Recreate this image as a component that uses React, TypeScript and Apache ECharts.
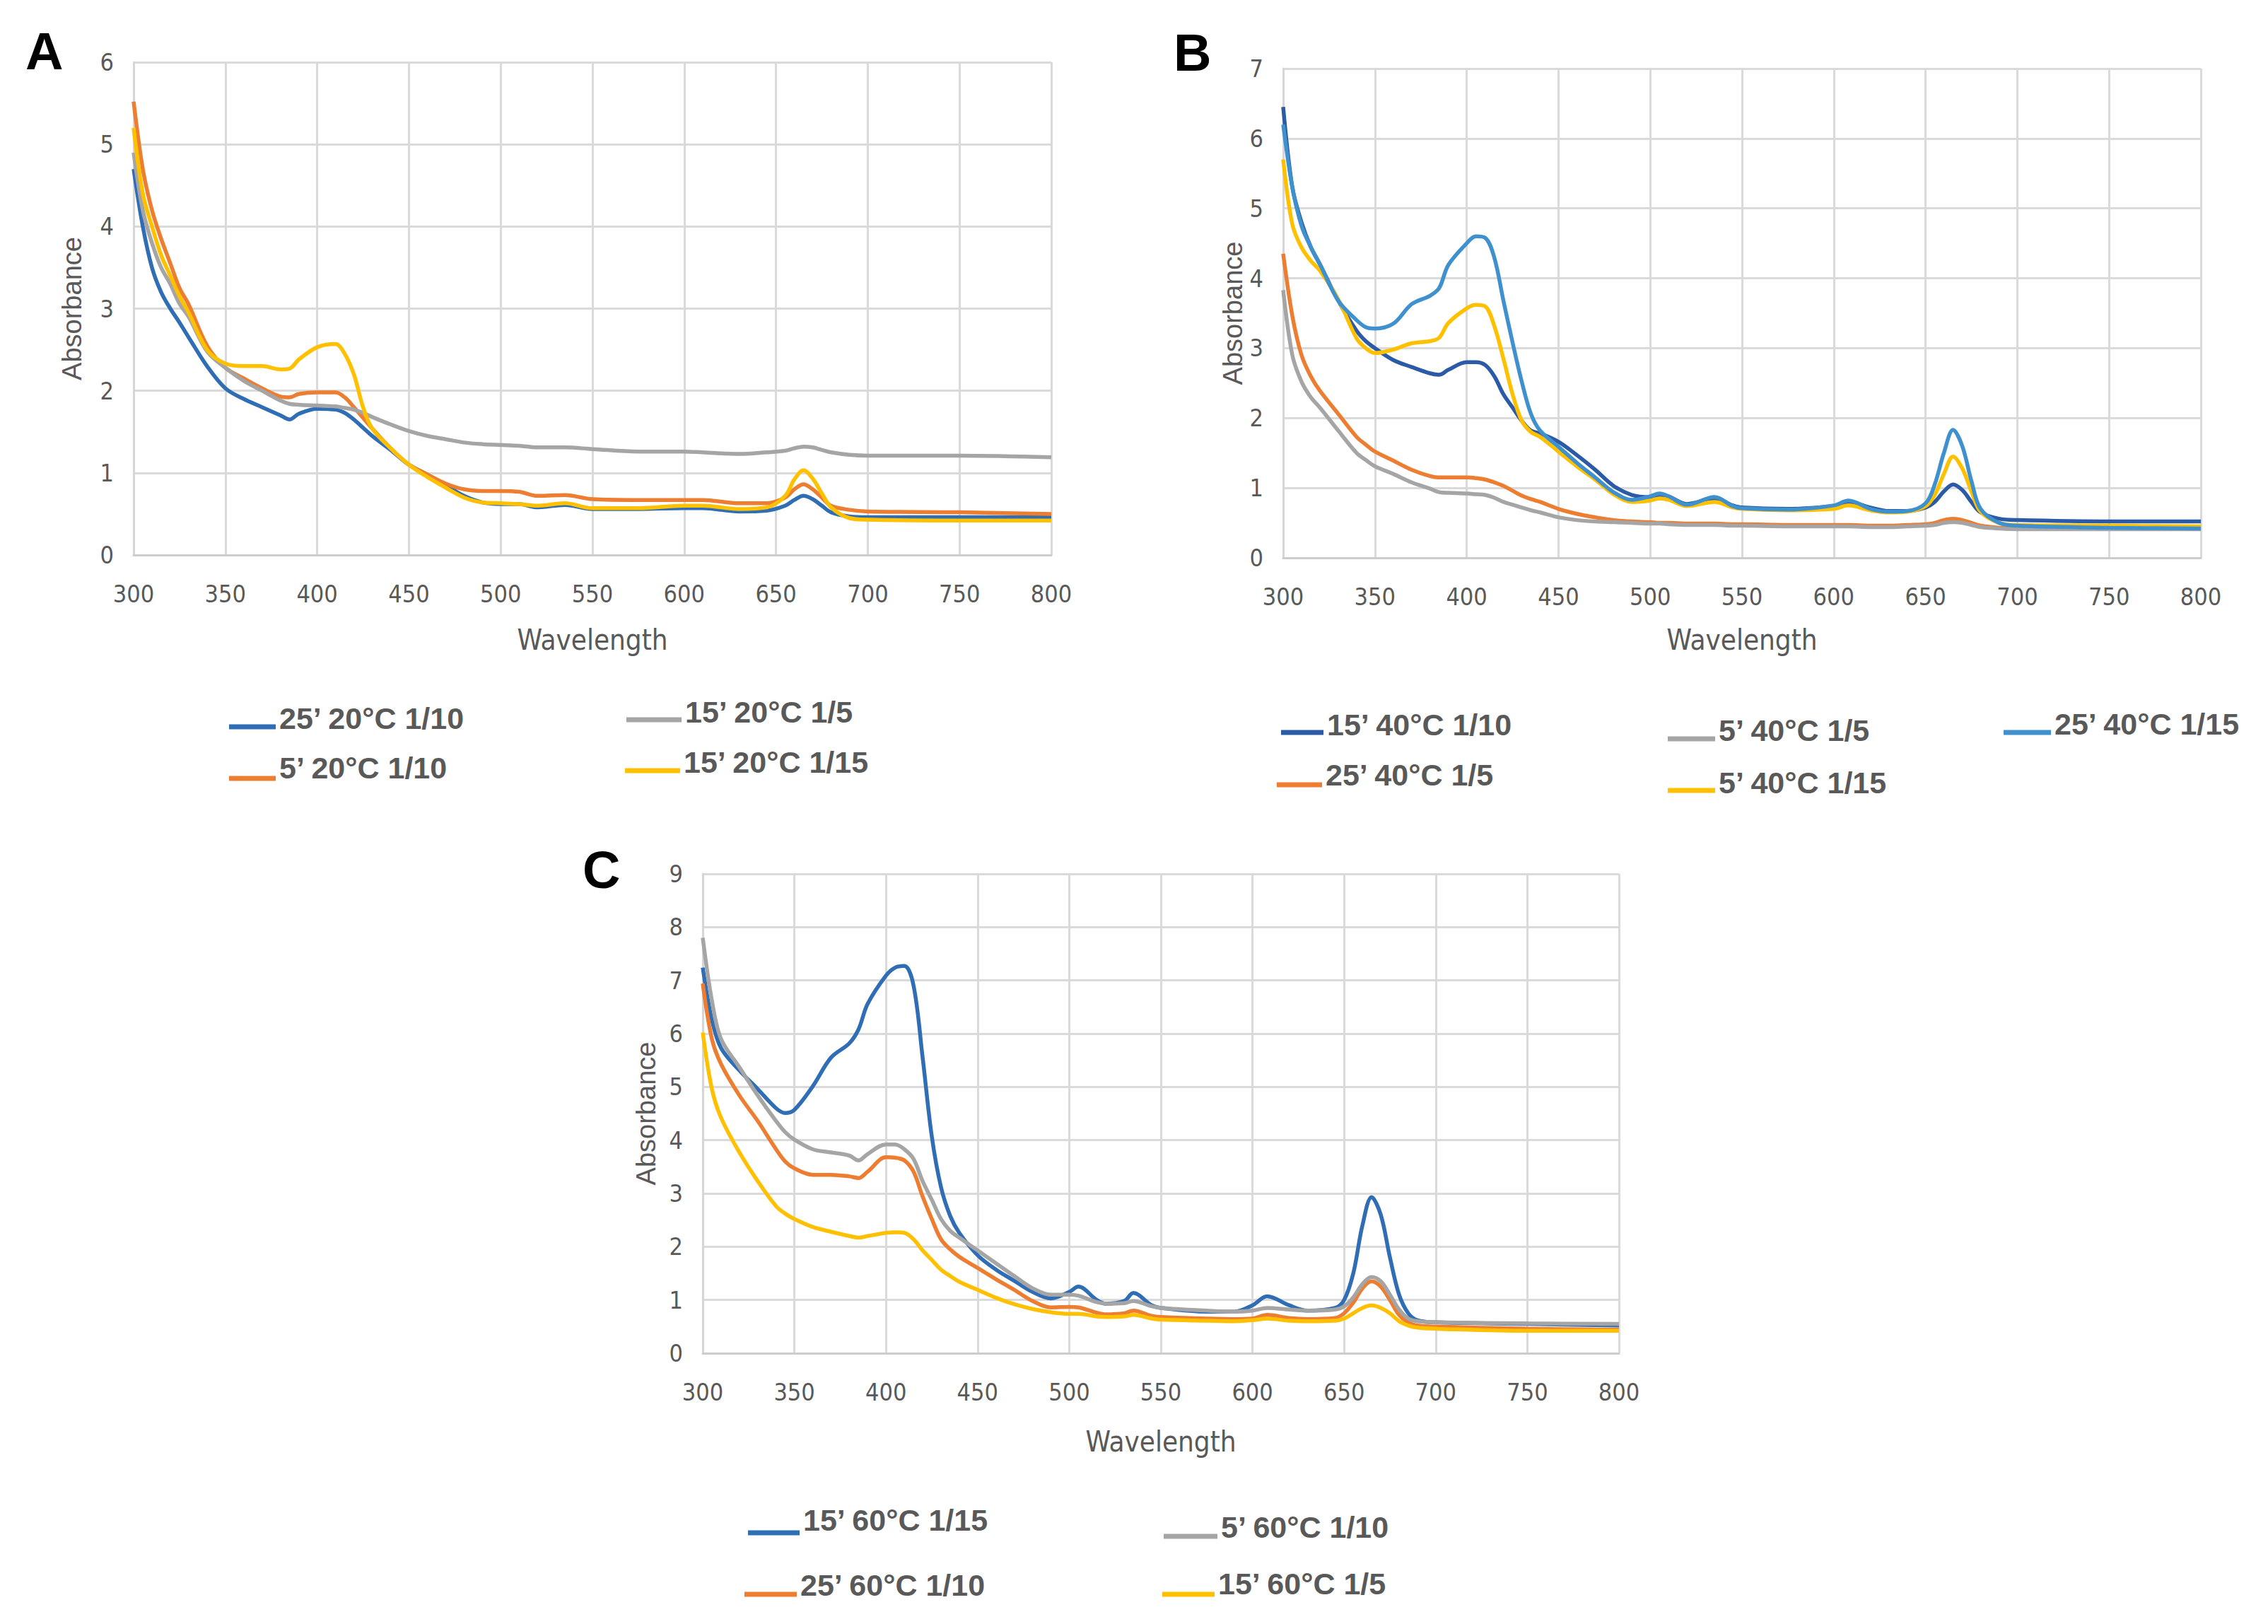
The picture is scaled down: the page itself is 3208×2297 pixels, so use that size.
import React, { useEffect, useRef } from "react";
import * as echarts from "echarts";

// ---------- Panel A ----------
const WL_A = [300,305,310,315,320,325,330,340,350,360,370,380,385,390,400,410,415,420,425,430,440,450,460,470,480,490,500,510,520,535,550,575,600,610,630,645,655,660,665,670,675,680,690,700,750,800];
const A_25_20_10 = [4.7,4.0,3.5,3.2,3.0,2.83,2.65,2.3,2.03,1.9,1.8,1.7,1.65,1.72,1.78,1.77,1.73,1.65,1.55,1.45,1.28,1.1,0.98,0.85,0.72,0.64,0.62,0.62,0.58,0.61,0.56,0.56,0.57,0.57,0.53,0.54,0.6,0.67,0.72,0.68,0.6,0.52,0.47,0.46,0.46,0.46];
const A_5_20_10 = [5.52,4.7,4.2,3.85,3.55,3.25,3.05,2.55,2.28,2.15,2.03,1.93,1.92,1.96,1.98,1.98,1.92,1.8,1.67,1.54,1.3,1.1,0.98,0.87,0.8,0.78,0.78,0.77,0.72,0.73,0.68,0.67,0.67,0.67,0.63,0.63,0.7,0.8,0.86,0.8,0.7,0.6,0.55,0.53,0.52,0.5];
const A_15_20_5 = [4.9,4.2,3.8,3.5,3.3,3.06,2.9,2.48,2.28,2.12,2.0,1.88,1.84,1.83,1.82,1.81,1.79,1.77,1.73,1.68,1.59,1.51,1.45,1.41,1.37,1.35,1.34,1.33,1.31,1.31,1.29,1.26,1.26,1.25,1.23,1.25,1.27,1.3,1.32,1.31,1.28,1.25,1.22,1.21,1.21,1.19];
const A_15_20_15 = [5.2,4.4,4.0,3.65,3.4,3.15,2.95,2.5,2.33,2.3,2.3,2.26,2.27,2.38,2.53,2.57,2.45,2.2,1.8,1.54,1.3,1.1,0.95,0.82,0.7,0.64,0.63,0.62,0.6,0.63,0.57,0.57,0.6,0.6,0.56,0.58,0.72,0.92,1.03,0.93,0.75,0.58,0.45,0.43,0.42,0.42];

// ---------- Panel B ----------
const WL_B = [300,305,310,315,320,330,340,345,350,360,370,380,385,390,400,405,410,415,420,425,430,435,440,450,460,470,480,490,500,505,510,520,535,545,550,575,600,608,620,630,640,650,655,660,665,670,675,680,690,700,750,800];
const B_15_40_10 = [6.45,5.3,4.8,4.45,4.2,3.68,3.25,3.1,3.0,2.83,2.73,2.64,2.62,2.69,2.8,2.8,2.76,2.6,2.34,2.15,1.96,1.82,1.78,1.66,1.47,1.26,1.03,0.9,0.87,0.9,0.88,0.77,0.85,0.75,0.72,0.7,0.74,0.8,0.72,0.67,0.67,0.72,0.8,0.95,1.05,0.97,0.8,0.65,0.56,0.54,0.52,0.52];
const B_25_40_5 = [4.35,3.46,2.9,2.6,2.39,2.06,1.73,1.62,1.52,1.39,1.26,1.17,1.15,1.15,1.15,1.14,1.12,1.08,1.03,0.96,0.89,0.84,0.8,0.7,0.63,0.58,0.54,0.52,0.51,0.5,0.5,0.49,0.49,0.48,0.48,0.47,0.47,0.47,0.46,0.46,0.47,0.48,0.5,0.54,0.56,0.54,0.5,0.46,0.43,0.42,0.42,0.42];
const B_5_40_5 = [3.83,2.9,2.52,2.3,2.15,1.82,1.5,1.4,1.31,1.2,1.08,0.99,0.94,0.93,0.92,0.91,0.9,0.86,0.8,0.76,0.72,0.68,0.65,0.58,0.54,0.52,0.51,0.5,0.49,0.49,0.48,0.47,0.47,0.46,0.46,0.45,0.45,0.45,0.44,0.44,0.45,0.46,0.47,0.5,0.51,0.5,0.47,0.44,0.42,0.41,0.41,0.41];
const B_5_40_15 = [5.7,4.77,4.44,4.25,4.11,3.7,3.14,3.0,2.93,2.98,3.07,3.1,3.15,3.36,3.57,3.62,3.6,3.32,2.85,2.34,1.96,1.8,1.73,1.52,1.31,1.12,0.91,0.8,0.82,0.85,0.83,0.74,0.8,0.72,0.7,0.68,0.7,0.75,0.68,0.65,0.66,0.74,0.9,1.2,1.45,1.28,0.95,0.66,0.5,0.47,0.46,0.45];
const B_25_40_15 = [6.2,5.3,4.75,4.45,4.2,3.68,3.4,3.3,3.28,3.35,3.63,3.75,3.86,4.19,4.5,4.6,4.58,4.3,3.68,3.08,2.52,2.06,1.82,1.59,1.36,1.15,0.94,0.83,0.88,0.92,0.88,0.76,0.87,0.74,0.71,0.69,0.75,0.82,0.7,0.66,0.67,0.78,1.05,1.5,1.83,1.6,1.1,0.7,0.5,0.46,0.43,0.42];

// ---------- Panel C ----------
const WL_C = [300,305,310,320,330,340,345,350,360,370,380,385,390,400,405,410,415,420,425,430,435,440,450,460,470,480,490,500,505,515,520,530,535,545,550,575,590,600,608,620,630,645,650,655,660,665,670,675,680,685,690,700,750,800];
const C_15_60_15 = [7.24,6.26,5.73,5.31,4.96,4.6,4.51,4.57,5.01,5.55,5.82,6.08,6.56,7.09,7.24,7.27,6.91,5.55,4.07,3.12,2.58,2.26,1.84,1.57,1.36,1.15,1.03,1.15,1.25,1.0,0.93,0.98,1.13,0.9,0.85,0.78,0.78,0.9,1.07,0.9,0.8,0.85,1.0,1.5,2.4,2.93,2.6,1.8,1.1,0.75,0.62,0.58,0.55,0.52];
const C_25_60_10 = [6.94,5.9,5.43,4.84,4.36,3.83,3.6,3.47,3.35,3.35,3.32,3.29,3.41,3.68,3.67,3.62,3.41,2.94,2.52,2.14,1.95,1.81,1.6,1.39,1.19,0.98,0.86,0.87,0.86,0.76,0.73,0.75,0.8,0.7,0.68,0.65,0.64,0.65,0.72,0.66,0.64,0.66,0.75,0.95,1.22,1.35,1.25,1.0,0.72,0.58,0.52,0.5,0.46,0.44];
const C_5_60_10 = [7.8,6.62,5.9,5.37,4.84,4.36,4.15,4.01,3.83,3.77,3.71,3.62,3.74,3.92,3.92,3.83,3.65,3.23,2.88,2.52,2.3,2.17,1.93,1.69,1.45,1.22,1.1,1.1,1.08,0.96,0.93,0.94,0.98,0.88,0.85,0.8,0.78,0.8,0.85,0.82,0.8,0.82,0.88,1.05,1.3,1.43,1.35,1.1,0.82,0.65,0.6,0.58,0.56,0.55];
const C_15_60_5 = [6.02,4.96,4.42,3.77,3.23,2.76,2.62,2.52,2.37,2.28,2.2,2.17,2.2,2.26,2.27,2.26,2.14,1.93,1.75,1.57,1.45,1.34,1.19,1.04,0.92,0.83,0.77,0.74,0.74,0.69,0.68,0.69,0.72,0.65,0.63,0.61,0.6,0.62,0.65,0.61,0.6,0.61,0.65,0.75,0.85,0.9,0.85,0.75,0.6,0.52,0.48,0.46,0.42,0.42];

const X_TICKS = [300, 350, 400, 450, 500, 550, 600, 650, 700, 750, 800];
const Y_MAX = [6, 7, 9];

const BLUE = "#2f6db5";
const DKBLUE = "#2b5aa6";
const LTBLUE = "#3f90cf";
const ORANGE = "#ed7d31";
const GRAY = "#a5a5a5";
const YELLOW = "#ffc000";

const NARROW = "'Liberation Sans Narrow', 'DejaVu Sans Condensed', 'Liberation Sans', sans-serif";
const ARIAL = "'Liberation Sans', Arial, sans-serif";

type S = { name: string; wl: number[]; v: number[]; color: string; grid: number };

const SERIES: S[] = [
  { name: "25’ 20°C 1/10", wl: WL_A, v: A_25_20_10, color: BLUE, grid: 0 },
  { name: "5’ 20°C 1/10", wl: WL_A, v: A_5_20_10, color: ORANGE, grid: 0 },
  { name: "15’ 20°C 1/5", wl: WL_A, v: A_15_20_5, color: GRAY, grid: 0 },
  { name: "15’ 20°C 1/15", wl: WL_A, v: A_15_20_15, color: YELLOW, grid: 0 },
  { name: "15’ 40°C 1/10", wl: WL_B, v: B_15_40_10, color: DKBLUE, grid: 1 },
  { name: "25’ 40°C 1/5", wl: WL_B, v: B_25_40_5, color: ORANGE, grid: 1 },
  { name: "5’ 40°C 1/5", wl: WL_B, v: B_5_40_5, color: GRAY, grid: 1 },
  { name: "5’ 40°C 1/15", wl: WL_B, v: B_5_40_15, color: YELLOW, grid: 1 },
  { name: "25’ 40°C 1/15", wl: WL_B, v: B_25_40_15, color: LTBLUE, grid: 1 },
  { name: "15’ 60°C 1/15", wl: WL_C, v: C_15_60_15, color: BLUE, grid: 2 },
  { name: "25’ 60°C 1/10", wl: WL_C, v: C_25_60_10, color: ORANGE, grid: 2 },
  { name: "5’ 60°C 1/10", wl: WL_C, v: C_5_60_10, color: GRAY, grid: 2 },
  { name: "15’ 60°C 1/5", wl: WL_C, v: C_15_60_5, color: YELLOW, grid: 2 },
];

// legend layout: marker left x, marker centre y, text centre y, marker width (px)
const LEGEND_POS = [
  [324, 1022, 1010, 66],
  [324, 1098, 1083, 66],
  [886, 1011, 1000, 78],
  [884, 1084, 1072, 78],
  [1812, 1029, 1018, 60],
  [1806, 1106, 1092, 64],
  [2359, 1039, 1027, 67],
  [2359, 1111, 1100, 67],
  [2834, 1030, 1018, 67],
  [1058, 2168, 2150, 73],
  [1053, 2250, 2237, 74],
  [1646, 2168, 2155, 76],
  [1644, 2252, 2237, 74],
];

const GRIDS = [
  { left: 189, top: 88, width: 1298, height: 697, nameGapX: 100, nameGapY: 68 },
  { left: 1815, top: 97, width: 1298, height: 692, nameGapX: 96, nameGapY: 52 },
  { left: 994, top: 1236, width: 1296, height: 678, nameGapX: 105, nameGapY: 61 },
];

const LETTERS = [
  { t: "A", x: 36, y: 72 },
  { t: "B", x: 1660, y: 74 },
  { t: "C", x: 824, y: 1230 },
];

export default function App() {
  const ref = useRef<HTMLDivElement>(null);
  useEffect(() => {
    if (!ref.current) return;
    const chart = echarts.init(ref.current, null, { renderer: "svg" });
    const T = 7; // marker thickness
    const option: any = {
      animation: false,
      backgroundColor: "#ffffff",
      grid: GRIDS.map((g) => ({ left: g.left, top: g.top, width: g.width, height: g.height, containLabel: false })),
      xAxis: GRIDS.map((g, i) => ({
        type: "value",
        gridIndex: i,
        min: X_TICKS[0],
        max: X_TICKS[X_TICKS.length - 1],
        interval: 50,
        name: "Wavelength",
        nameLocation: "middle",
        nameGap: g.nameGapX,
        nameTextStyle: { fontFamily: NARROW, fontSize: 40, color: "#595959" },
        axisLine: { show: true, lineStyle: { color: "#cccccc", width: 3 } },
        axisTick: { show: false },
        splitLine: { show: true, lineStyle: { color: "#dadada", width: 3 } },
        axisLabel: { fontFamily: NARROW, fontSize: 34, color: "#595959", margin: 38 },
      })),
      yAxis: GRIDS.map((g, i) => ({
        type: "value",
        gridIndex: i,
        min: 0,
        max: Y_MAX[i],
        interval: 1,
        name: "Absorbance",
        nameLocation: "middle",
        nameGap: g.nameGapY,
        nameTextStyle: { fontFamily: ARIAL, fontSize: 38, color: "#595959" },
        axisLine: { show: true, lineStyle: { color: "#d6d6d6", width: 3 } },
        axisTick: { show: false },
        splitLine: { show: true, lineStyle: { color: "#dadada", width: 3 } },
        axisLabel: { fontFamily: NARROW, fontSize: 34, color: "#595959", margin: 28 },
      })),
      legend: SERIES.map((s, i) => {
        const [lx, my, ty, lw] = LEGEND_POS[i];
        const h = Math.max(2 * (my - ty) + T, T + 2);
        return {
          data: [s.name],
          left: lx,
          top: ty - h / 2,
          padding: 0,
          orient: "horizontal",
          itemWidth: lw,
          itemHeight: h,
          symbolKeepAspect: false,
          icon: `path://M0,0H0.01V0.01H0Z M0,${h - T}H${lw}V${h}H0Z`,
          itemStyle: { color: s.color, borderWidth: 0 },
          textStyle: { fontFamily: ARIAL, fontSize: 43, fontWeight: "bold", color: "#595959" },
          selectedMode: false,
        };
      }),
      series: SERIES.map((s) => ({
        name: s.name,
        type: "line",
        xAxisIndex: s.grid,
        yAxisIndex: s.grid,
        data: s.wl.map((w, k) => [w, s.v[k]]),
        showSymbol: false,
        symbol: "none",
        smooth: 0.35,
        lineStyle: { color: s.color, width: 5.5 },
        itemStyle: { color: s.color },
      })),
      graphic: LETTERS.map((l) => ({
        type: "text",
        left: l.x,
        top: l.y - 37,
        style: { text: l.t, fontFamily: ARIAL, fontSize: 74, fontWeight: "bold", fill: "#000000" },
      })),
    };
    chart.setOption(option);
    return () => chart.dispose();
  }, []);
  return (
    <div
      ref={ref}
      style={{ position: "absolute", left: 0, top: 0, width: 3208, height: 2297, background: "#fff" }}
    />
  );
}
